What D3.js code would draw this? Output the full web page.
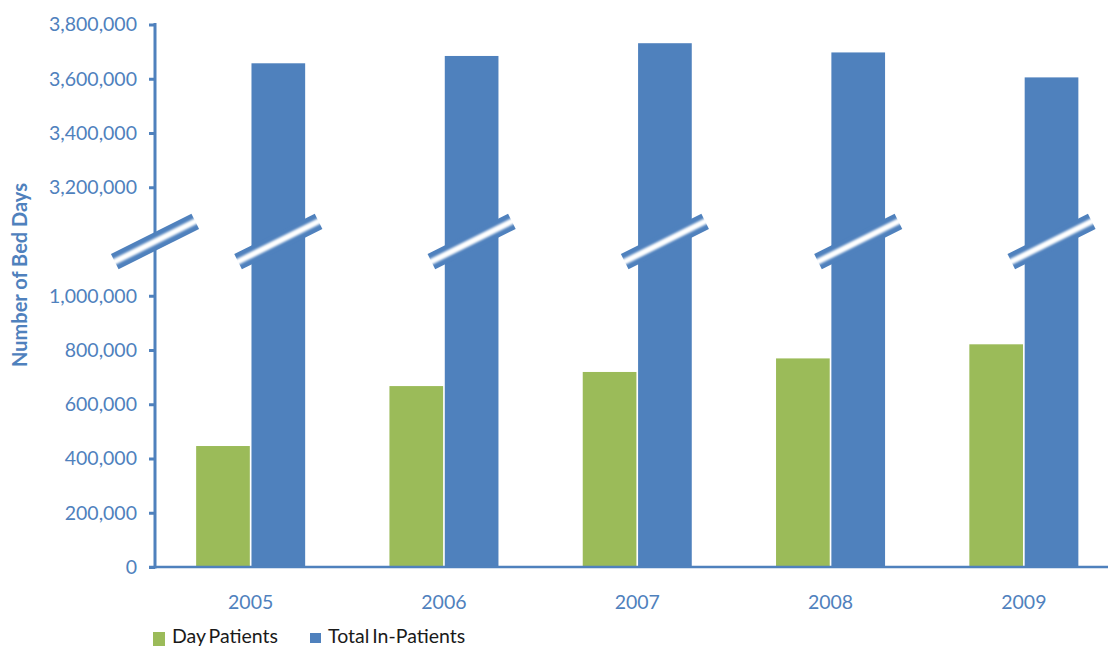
<!DOCTYPE html>
<html>
<head>
<meta charset="utf-8">
<script src="https://cdn.jsdelivr.net/npm/d3@7"></script>
<style>
  html, body { margin: 0; padding: 0; background: #fff; }
  svg { display: block; font-family: Lato, "Open Sans", sans-serif; }
</style>
</head>
<body>
<svg id="chart" width="1108" height="648"></svg>
<script>
// Bed days per year
const years = ["2005", "2006", "2007", "2008", "2009"];
const seriesNames = ["Day Patients", "Total In-Patients"];
const dayPatients = [446000, 667000, 719000, 769000, 821000];
const inPatients = [3657000, 3684000, 3731000, 3697000, 3605000];
const lowerTicks = [0, 200000, 400000, 600000, 800000, 1000000];
const upperTicks = [3200000, 3400000, 3600000, 3800000];

const colors = { "Day Patients": "#9BBB59", "Total In-Patients": "#4F81BD" };
const axisBlue = "#4F81BD";

const svg = d3.select("#chart");

const rows = years.map((yr, i) => ({
  year: yr,
  values: [
    { key: seriesNames[0], value: dayPatients[i] },
    { key: seriesNames[1], value: inPatients[i] }
  ]
}));

// Broken value axis: 0–1.2M below the break, 3.0M–3.8M above it
const yBottom = 567, yTop = 24.5;
const yBreak = yBottom - (yBottom - yTop) * 0.6;
const y = d3.scaleLinear()
  .domain([0, 1200000, 3000000, 3800000])
  .range([yBottom, yBreak, yBreak, yTop]);

const x = d3.scaleBand()
  .domain(years)
  .range([154, 1120.5])
  .paddingInner(0.436)
  .paddingOuter(0.218);

const xSub = d3.scaleBand()
  .domain(seriesNames)
  .range([0, x.bandwidth()])
  .paddingInner(0.03);

// Bars
const groups = svg.append("g").selectAll("g")
  .data(rows)
  .join("g")
  .attr("transform", d => `translate(${x(d.year)},0)`);

groups.selectAll("rect")
  .data(d => d.values)
  .join("rect")
  .attr("x", d => xSub(d.key))
  .attr("width", xSub.bandwidth())
  .attr("y", d => y(d.value))
  .attr("height", d => yBottom - y(d.value))
  .attr("fill", d => colors[d.key]);

// Value axis
const yAxis = d3.axisLeft(y)
  .tickValues(lowerTicks.concat(upperTicks))
  .tickSize(6)
  .tickPadding(12)
  .tickFormat(d3.format(","));

const yG = svg.append("g")
  .attr("transform", "translate(155,0)")
  .call(yAxis);
yG.select(".domain").remove();
yG.selectAll(".tick line").attr("stroke", axisBlue).attr("stroke-width", 3);
yG.selectAll(".tick text")
  .attr("fill", axisBlue)
  .style("font-size", "19.5px")
  .style("font-family", "Lato, sans-serif");

svg.append("line")
  .attr("x1", 155).attr("x2", 155)
  .attr("y1", yTop - 1.5).attr("y2", yBottom + 1.5)
  .attr("stroke", axisBlue).attr("stroke-width", 3);

// Category axis
svg.append("line")
  .attr("x1", 149).attr("x2", 1108)
  .attr("y1", yBottom).attr("y2", yBottom)
  .attr("stroke", axisBlue).attr("stroke-width", 2.5);

svg.append("g").selectAll("text")
  .data(years)
  .join("text")
  .attr("x", d => x(d) + x.bandwidth() / 2)
  .attr("y", 608.5)
  .attr("text-anchor", "middle")
  .attr("fill", axisBlue)
  .style("font-size", "19.5px")
  .text(d => d);

// Axis title
svg.append("text")
  .attr("transform", "translate(27,275) rotate(-90)")
  .attr("text-anchor", "middle")
  .attr("fill", axisBlue)
  .style("font-size", "20px")
  .style("font-weight", "bold")
  .text("Number of Bed Days");

// Break markers across the axis and each tall bar
const defs = svg.append("defs");
defs.append("filter").attr("id", "soft")
  .append("feGaussianBlur").attr("stdDeviation", 0.9);

const angle = 26.6 * Math.PI / 180;
const half = 45;
const dx = Math.cos(angle) * half, dy = Math.sin(angle) * half;
const breakXs = [155].concat(years.map(yr => x(yr) + xSub(seriesNames[1]) + xSub.bandwidth() / 2));

const breaks = svg.append("g").selectAll("g")
  .data(breakXs)
  .join("g");
breaks.append("line")
  .attr("x1", d => d - dx).attr("y1", yBreak + dy)
  .attr("x2", d => d + dx).attr("y2", yBreak - dy)
  .attr("stroke", axisBlue).attr("stroke-width", 17)
  .attr("stroke-linecap", "butt");
breaks.append("line")
  .attr("x1", d => d - dx - 2).attr("y1", yBreak + dy + 1)
  .attr("x2", d => d + dx + 2).attr("y2", yBreak - dy - 1)
  .attr("stroke", "#fff").attr("stroke-width", 6)
  .attr("filter", "url(#soft)");

// Legend
const legend = [
  { key: seriesNames[0], sx: 153, sy: 632, sw: 12, sh: 14, tx: 172 },
  { key: seriesNames[1], sx: 310, sy: 633, sw: 11, sh: 10, tx: 328 }
];
const lg = svg.append("g").selectAll("g").data(legend).join("g");
lg.append("rect")
  .attr("x", d => d.sx).attr("y", d => d.sy)
  .attr("width", d => d.sw).attr("height", d => d.sh)
  .attr("fill", d => colors[d.key]);
lg.append("text")
  .attr("x", d => d.tx).attr("y", 643)
  .attr("fill", "#1a1a1a")
  .style("font-size", "19.5px")
  .style("word-spacing", "-2px")
  .text(d => d.key);
</script>
</body>
</html>
